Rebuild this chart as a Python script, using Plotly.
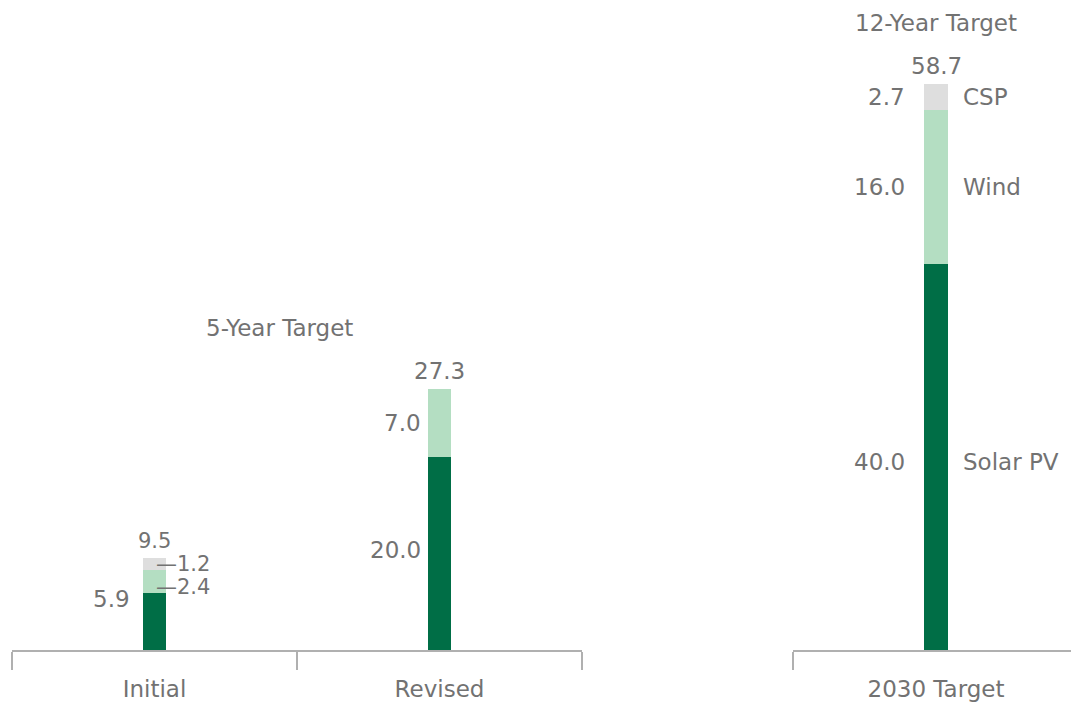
import plotly.graph_objects as go

categories = ["Initial", "Revised", "2030 Target"]
solar_pv = [5.9, 20.0, 40.0]
wind = [2.4, 7.0, 16.0]
csp = [1.2, 0.0, 2.7]
totals = [9.5, 27.3, 58.7]
group_titles = ["5-Year Target", "12-Year Target"]
series_names = ["Solar PV", "Wind", "CSP"]

C_DARK = "#006E46"
C_LIGHT = "#B4DEC2"
C_GREY = "#DEDEDE"
TXT = "#727272"
FONT = "DejaVu Sans"
FS = 23

fig = go.Figure()
axes = [("x", categories[:2], slice(0, 2)), ("x2", categories[2:], slice(2, 3))]
for xa, cats, sl in axes:
    for vals, col, name in [(solar_pv, C_DARK, "Solar PV"), (wind, C_LIGHT, "Wind"), (csp, C_GREY, "CSP")]:
        fig.add_trace(go.Bar(x=cats, y=vals[sl], marker=dict(color=col, line=dict(width=0)),
                             width=0.084, name=name, xaxis=xa, yaxis="y", showlegend=False,
                             hoverinfo="skip"))

ann = []
def A(xref, x, y, text, xanchor="center", yanchor="middle", xshift=0, yshift=0, size=FS):
    ann.append(dict(xref=xref, yref="y", x=x, y=y, text=text, showarrow=False,
                    xanchor=xanchor, yanchor=yanchor, xshift=xshift, yshift=yshift,
                    font=dict(family=FONT, size=size, color=TXT)))

# Initial
A("x", 0, totals[0], f"{totals[0]:.1f}", yanchor="bottom", yshift=3, size=21)
A("x", 0, solar_pv[0] + wind[0] + csp[0] / 2, f"\u2014{csp[0]:.1f}", xanchor="left", xshift=-1, yshift=0, size=21)
A("x", 0, solar_pv[0] + wind[0] / 2, f"\u2014{wind[0]:.1f}", xanchor="left", xshift=-1, yshift=-6, size=21)
A("x", 0, solar_pv[0] / 2, f"{solar_pv[0]:.1f}", xanchor="right", xshift=-23, yshift=23)
# Revised
A("x", 1, totals[1], f"{totals[1]:.1f}", yanchor="bottom", yshift=1)
A("x", 1, solar_pv[1] + wind[1] / 2, f"{wind[1]:.1f}", xanchor="right", xshift=-17)
A("x", 1, solar_pv[1] / 2, f"{solar_pv[1]:.1f}", xanchor="right", xshift=-17, yshift=4)
# 2030
A("x2", 0, totals[2], f"{totals[2]:.1f}", yanchor="bottom", yshift=3)
A("x2", 0, solar_pv[2] + wind[2] + csp[2] / 2, f"{csp[2]:.1f}", xanchor="right", xshift=-29)
A("x2", 0, solar_pv[2] + wind[2] / 2, f"{wind[2]:.1f}", xanchor="right", xshift=-29)
A("x2", 0, solar_pv[2] / 2, f"{solar_pv[2]:.1f}", xanchor="right", xshift=-29, yshift=-5)
A("x2", 0, solar_pv[2] + wind[2] + csp[2] / 2, series_names[2], xanchor="left", xshift=25)
A("x2", 0, solar_pv[2] + wind[2] / 2, series_names[1], xanchor="left", xshift=25)
A("x2", 0, solar_pv[2] / 2, series_names[0], xanchor="left", xshift=25, yshift=-5)
# group titles
A("x", 0.44, totals[1], group_titles[0], yanchor="bottom", yshift=44)
A("x2", 0, totals[2], group_titles[1], yanchor="bottom", yshift=46)

axis_common = dict(type="category", showline=True, linecolor="#B0B0B0", linewidth=1.5,
                   ticks="outside", tickson="boundaries", ticklen=18, tickcolor="#B0B0B0",
                   tickwidth=1.5, showgrid=False, zeroline=False, ticklabelstandoff=18,
                   tickfont=dict(family=FONT, size=FS, color=TXT), fixedrange=True)

fig.update_layout(
    width=1071, height=702,
    margin=dict(l=0, r=0, t=0, b=52),
    paper_bgcolor="white", plot_bgcolor="white",
    barmode="stack", bargap=0,
    xaxis=dict(domain=[12 / 1071, 582 / 1071], range=[-0.5, 1.5], **axis_common),
    xaxis2=dict(domain=[793 / 1071, 1.0], range=[-0.5, 0.472], anchor="y", **axis_common),
    yaxis=dict(range=[0, 67.36], visible=False, fixedrange=True),
    annotations=ann,
    showlegend=False,
)

fig.write_html("out.html")
